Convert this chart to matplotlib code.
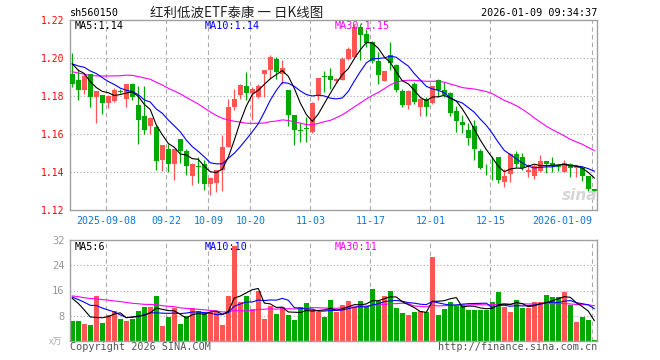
import numpy as np
import pandas as pd
import matplotlib
matplotlib.use('Agg')
import matplotlib.pyplot as plt

#daily candles of sh560150, 2025-08-29 .. 2026-01-09 (88 sessions)
open_price = [1.1918, 1.1886, 1.1833, 1.1914, 1.1795, 1.1804, 1.1763, 1.1774, 1.1828, 1.1786,
              1.1865, 1.1751, 1.1693, 1.1640, 1.1637, 1.1461, 1.1519, 1.1444, 1.1572, 1.1509,
              1.1379, 1.1432, 1.1444, 1.1339, 1.1344, 1.1409, 1.1532, 1.1742, 1.1803, 1.1853,
              1.1818, 1.1795, 1.1918, 1.1939, 1.1996, 1.1918, 1.1833, 1.1702, 1.1621, 1.1633,
              1.1611, 1.1804, 1.1905, 1.1905, 1.1880, 1.1886, 1.1996, 1.2005, 1.2163, 1.2128,
              1.2082, 1.1982, 1.1881, 1.2014, 1.1965, 1.1826, 1.1754, 1.1865, 1.1742, 1.1786,
              1.1763, 1.1882, 1.1833, 1.1816, 1.1719, 1.1663, 1.1619, 1.1640, 1.1509, 1.1423,
              1.1432, 1.1479, 1.1347, 1.1390, 1.1496, 1.1479, 1.1402, 1.1377, 1.1404, 1.1458,
              1.1449, 1.1432, 1.1400, 1.1444, 1.1423, 1.1423, 1.1377, 1.1309]
high_price = [1.2026, 1.1944, 1.1918, 1.1918, 1.1826, 1.1804, 1.1805, 1.1842, 1.1835, 1.1865,
              1.1868, 1.1851, 1.1851, 1.1690, 1.1646, 1.1544, 1.1549, 1.1523, 1.1572, 1.1519,
              1.1449, 1.1479, 1.1465, 1.1375, 1.1412, 1.1593, 1.1786, 1.1839, 1.1865, 1.1926,
              1.1847, 1.1865, 1.1939, 1.2018, 1.2005, 1.1988, 1.1833, 1.1702, 1.1658, 1.1689,
              1.1768, 1.1895, 1.1930, 1.1947, 1.1895, 1.2005, 1.2058, 1.2181, 1.2181, 1.2154,
              1.2090, 1.2032, 1.1933, 1.2084, 1.1970, 1.1838, 1.1830, 1.1874, 1.1790, 1.1795,
              1.1851, 1.1891, 1.1874, 1.1821, 1.1746, 1.1698, 1.1658, 1.1672, 1.1523, 1.1444,
              1.1482, 1.1479, 1.1418, 1.1500, 1.1510, 1.1500, 1.1444, 1.1444, 1.1491, 1.1458,
              1.1479, 1.1444, 1.1465, 1.1447, 1.1435, 1.1430, 1.1377, 1.1312]
low_price = [1.1847, 1.1781, 1.1812, 1.1742, 1.1658, 1.1707, 1.1735, 1.1768, 1.1815, 1.1742,
             1.1780, 1.1549, 1.1602, 1.1598, 1.1409, 1.1405, 1.1400, 1.1356, 1.1447, 1.1382,
             1.1330, 1.1344, 1.1304, 1.1277, 1.1295, 1.1298, 1.1532, 1.1725, 1.1786, 1.1781,
             1.1672, 1.1790, 1.1795, 1.1891, 1.1891, 1.1865, 1.1640, 1.1540, 1.1558, 1.1558,
             1.1607, 1.1781, 1.1821, 1.1839, 1.1870, 1.1883, 1.1990, 1.2000, 1.1988, 1.2058,
             1.1975, 1.1865, 1.1881, 1.1935, 1.1820, 1.1740, 1.1733, 1.1758, 1.1693, 1.1693,
             1.1760, 1.1795, 1.1795, 1.1693, 1.1611, 1.1605, 1.1540, 1.1461, 1.1418, 1.1386,
             1.1356, 1.1342, 1.1321, 1.1350, 1.1425, 1.1409, 1.1374, 1.1361, 1.1400, 1.1395,
             1.1400, 1.1404, 1.1398, 1.1374, 1.1374, 1.1353, 1.1300, 1.1290]
close_price = [1.1865, 1.1833, 1.1904, 1.1795, 1.1826, 1.1763, 1.1798, 1.1830, 1.1822, 1.1865,
               1.1795, 1.1675, 1.1623, 1.1686, 1.1458, 1.1540, 1.1444, 1.1523, 1.1509, 1.1432,
               1.1444, 1.1425, 1.1339, 1.1368, 1.1409, 1.1532, 1.1742, 1.1786, 1.1856, 1.1818,
               1.1839, 1.1853, 1.1939, 1.2005, 1.1926, 1.1947, 1.1702, 1.1623, 1.1617, 1.1626,
               1.1763, 1.1895, 1.1900, 1.1886, 1.1888, 1.1996, 1.2049, 1.2163, 1.2119, 1.2079,
               1.1986, 1.1909, 1.1933, 1.1975, 1.1830, 1.1754, 1.1826, 1.1768, 1.1786, 1.1742,
               1.1851, 1.1833, 1.1804, 1.1711, 1.1667, 1.1646, 1.1581, 1.1523, 1.1423, 1.1419,
               1.1430, 1.1356, 1.1379, 1.1495, 1.1444, 1.1423, 1.1412, 1.1432, 1.1458, 1.1440,
               1.1432, 1.1425, 1.1447, 1.1423, 1.1430, 1.1377, 1.1312, 1.1300]
#volume in 万 lots
volume = [6.4, 6.4, 5.4, 5.1, 14.1, 5.8, 8.2, 9.6, 6.9, 6.4,
          7.0, 9.6, 10.7, 10.9, 14.1, 4.8, 7.7, 10.3, 5.4, 8.0,
          10.3, 9.6, 8.9, 9.3, 9.3, 5.1, 14.1, 30.2, 12.5, 14.4,
          10.1, 16.0, 7.1, 11.2, 8.7, 10.7, 8.3, 6.7, 10.7, 11.9,
          9.8, 9.3, 7.5, 13.1, 9.3, 11.5, 12.8, 10.9, 12.8, 10.7,
          16.6, 12.8, 14.1, 15.7, 10.6, 9.0, 8.3, 9.3, 9.5, 9.3,
          26.6, 8.3, 10.2, 12.5, 11.2, 11.5, 9.9, 9.9, 9.9, 9.9,
          12.2, 15.4, 10.9, 9.3, 13.1, 10.6, 10.6, 12.2, 12.5, 14.7,
          13.8, 13.8, 15.4, 11.5, 6.1, 7.7, 6.7, 0.3]
#sessions before the window, read back from where the MA lines start; only feed the averages
prior_close = [1.205, 1.208, 1.203, 1.184, 1.181, 1.178, 1.182, 1.180, 1.177, 1.183,
               1.186, 1.184, 1.190, 1.193, 1.196, 1.198, 1.194, 1.197, 1.199, 1.196,
               1.195, 1.197, 1.199, 1.196, 1.198, 1.200, 1.199, 1.201, 1.198]
prior_volume = [13.2, 15.8, 12.4, 16.1, 14.0, 13.5, 17.2, 12.8, 14.6, 15.3,
                13.9, 16.4, 12.1, 14.8, 15.6, 13.0, 14.2, 16.8, 13.4, 14.1,
                14.2, 13.8, 15.0, 14.6, 13.9, 14.4, 15.8, 16.2, 14.8]

date_labels = ['2025-09-08', '09-22', '10-09', '10-20', '11-03', '11-17', '12-01', '12-15', '2026-01-09']
date_index = [6, 16, 23, 30, 40, 50, 60, 70, 87]
price_ticks = [1.12, 1.14, 1.16, 1.18, 1.20, 1.22]
volume_ticks = [8, 16, 24, 32]

RED = '#ff5555'
GREEN = '#00a800'
BORDER = '#a0a0a0'
GRID = '#aaaaaa'
MONO = 'DejaVu Sans Mono'
W, H = 660, 360


def px(x, y):
    """pixel position (from top left) to figure fraction"""
    return x / W, 1 - y / H


def moving_average(prior, values, n):
    series = pd.Series(list(prior) + list(values))
    return series.rolling(n).mean().to_numpy()[len(prior):]


def style_axes(ax):
    for spine in ax.spines.values():
        spine.set_color(BORDER)
        spine.set_linewidth(1.0)
    ax.set_xlim(-0.38, 87.45)
    ax.tick_params(length=0)
    #dashed vertical lines sit a bit left of the candle
    for i in date_index:
        ax.axvline(i - 0.33, color=GRID, lw=0.8, ls=(0, (4, 3)), zorder=0)


o = np.array(open_price)
h = np.array(high_price)
l = np.array(low_price)
c = np.array(close_price)
v = np.array(volume)
x = np.arange(len(c))
up = c >= o
colors = np.where(up, RED, GREEN)

fig = plt.figure(figsize=(6.6, 3.6), dpi=100)
fig.patch.set_facecolor('white')

#price panel
ax = fig.add_axes([70 / W, 1 - 210 / H, 527 / W, 190 / H])
style_axes(ax)
ax.set_ylim(1.12, 1.22)
for t in price_ticks[1:-1]:
    ax.axhline(t, color=GRID, lw=0.8, ls=(0, (1, 2)), zorder=0)
ax.set_yticks(price_ticks)
ax.set_yticklabels(['%.2f' % t for t in price_ticks], color='#ff0000', fontsize=7, family=MONO)
ax.tick_params(axis='y', pad=4)
ax.set_xticks([i - 0.33 for i in date_index])
ax.set_xticklabels(date_labels, color='#0a78d8', fontsize=7.2, family=MONO)
ax.tick_params(axis='x', pad=4)
ax.get_xticklabels()[-1].set_ha('right')

ax.vlines(x, l, h, colors=colors, lw=0.9, zorder=2)
body = np.maximum(np.abs(c - o), 0.0003)
ax.bar(x, body, bottom=np.minimum(o, c), width=0.8, color=colors, lw=0, zorder=3)

ax.plot(x, moving_average(prior_close, c, 30), color='#ff00ff', lw=0.8, zorder=4)
ax.plot(x, moving_average(prior_close, c, 10), color='#0000ff', lw=0.8, zorder=4)
ax.plot(x, moving_average(prior_close, c, 5), color='black', lw=0.8, zorder=4)

#volume panel
axv = fig.add_axes([70 / W, 1 - 341 / H, 527 / W, 101 / H])
style_axes(axv)
axv.set_ylim(0, 32)
for t in volume_ticks[:-1]:
    axv.axhline(t, color=GRID, lw=0.8, ls=(0, (1, 2)), zorder=0)
axv.set_yticks(volume_ticks)
axv.set_yticklabels([str(t) for t in volume_ticks], color='#999999', fontsize=7.5, family=MONO)
axv.tick_params(axis='y', pad=4)
axv.set_xticks([])
axv.bar(x, v, width=0.8, color=colors, lw=0, zorder=2)
axv.plot(x, moving_average(prior_volume, v, 30), color='#ff00ff', lw=0.8, zorder=4)
axv.plot(x, moving_average(prior_volume, v, 10), color='#0000ff', lw=0.8, zorder=4)
axv.plot(x, moving_average(prior_volume, v, 5), color='black', lw=0.8, zorder=4)

#header and legend texts
fig.text(*px(70, 13), 'sh560150', fontsize=7.3, family=MONO, va='center')
fig.text(*px(237, 13), '红利低波ETF泰康 一 日K线图', fontsize=9.7,
         family=['Noto Sans CJK SC', 'DejaVu Sans'], ha='center', va='center', color='#222222')
fig.text(*px(597, 13), '2026-01-09 09:34:37', fontsize=7.3, family=MONO, ha='right', va='center')

fig.text(*px(75, 26), 'MA5:1.14', fontsize=7.3, family=MONO, va='center', color='black')
fig.text(*px(205, 26), 'MA10:1.14', fontsize=7.3, family=MONO, va='center', color='#0000ff')
fig.text(*px(335, 26), 'MA30:1.15', fontsize=7.3, family=MONO, va='center', color='#ff00ff')
fig.text(*px(75, 247), 'MA5:6', fontsize=7.3, family=MONO, va='center', color='black')
fig.text(*px(205, 247), 'MA10:10', fontsize=7.3, family=MONO, va='center', color='#0000ff')
fig.text(*px(335, 247), 'MA30:11', fontsize=7.3, family=MONO, va='center', color='#ff00ff')

fig.text(*px(56, 342), 'x万', fontsize=6.5, family=['Noto Sans CJK SC', 'DejaVu Sans'],
         ha='center', va='center', color='#aaaaaa', style='italic')
fig.text(*px(70, 347), 'Copyright 2026 SINA.COM', fontsize=7.3, family=MONO, va='center', color='#555555')
fig.text(*px(597, 347), 'http://finance.sina.com.cn', fontsize=7.3, family=MONO,
         ha='right', va='center', color='#555555')
#watermark
fig.text(*px(580, 196), 'sina', fontsize=11, fontweight='bold', style='italic',
         ha='center', va='center', color='#d6d6d6', zorder=0)

fig.savefig('out.png', dpi=100)
